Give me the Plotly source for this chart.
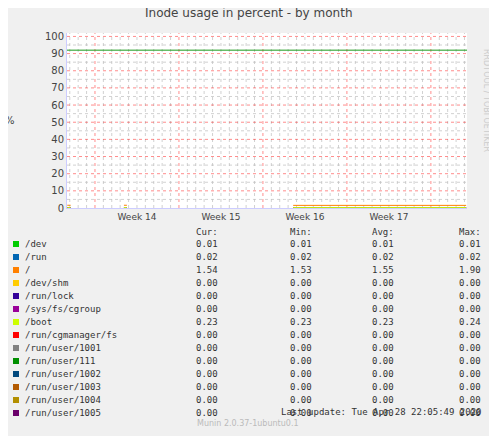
import plotly.graph_objects as go

names = ["/dev","/run","/","/dev/shm","/run/lock","/sys/fs/cgroup","/boot","/run/cgmanager/fs",
         "/run/user/1001","/run/user/111","/run/user/1002","/run/user/1003","/run/user/1004","/run/user/1005"]
colors = ["#00CC00","#0066B3","#FF8000","#FFCC00","#330099","#990099","#CCFF00","#FF0000",
          "#808080","#008F00","#00487D","#B35A00","#B38F00","#6B006B"]
cur = ["0.01","0.02","1.54","0.00","0.00","0.00","0.23","0.00","0.00","0.00","0.00","0.00","0.00","0.00"]
mn  = ["0.01","0.02","1.53","0.00","0.00","0.00","0.23","0.00","0.00","0.00","0.00","0.00","0.00","0.00"]
avg = ["0.01","0.02","1.55","0.00","0.00","0.00","0.23","0.00","0.00","0.00","0.00","0.00","0.00","0.00"]
mx  = ["0.01","0.02","1.90","0.00","0.00","0.00","0.24","0.00","0.00","0.00","0.00","0.00","0.00","0.00"]

seg_x = [-3.3, -2.9, None, 3.45, 3.8, None, 23.6, 44.2]
root_y = [1.6, 1.6, None, 1.6, 1.6, None, 1.54, 1.54]
zero_y = [0.0, 0.0, None, 0.0, 0.0, None, 0.0, 0.0]
warn_level = 92
week_pos = [5, 15, 25, 35]
week_labels = ["Week 14", "Week 15", "Week 16", "Week 17"]
XMIN, XMAX = -3.33, 44.3

fig = go.Figure()
fig.add_trace(go.Scatter(x=[XMIN, XMAX], y=[warn_level]*2, mode="lines", line=dict(color="#1a9a1a", width=1)))
for c in ["#0066B3", "#330099", "#990099", "#6B006B"]:
    fig.add_trace(go.Scatter(x=seg_x, y=zero_y, mode="lines", line=dict(color=c, width=1)))
fig.add_trace(go.Scatter(x=seg_x, y=[0.23 if v is not None else None for v in zero_y], mode="lines",
                         line=dict(color="#CCFF00", width=1)))
fig.add_trace(go.Scatter(x=seg_x, y=root_y, mode="lines", line=dict(color="#FF8000", width=1)))

shapes = []
for i in range(-3, 45):
    col = "rgba(255,0,0,0.45)" if i % 10 == 0 else "rgba(190,190,190,0.7)"
    shapes.append(dict(type="line", xref="x", yref="paper", x0=i, x1=i, y0=0, y1=1,
                       line=dict(color=col, width=1, dash="dot"), layer="below"))
for v in range(5, 101, 5):
    col = "rgba(255,0,0,0.45)" if v % 10 == 0 else "rgba(190,190,190,0.7)"
    shapes.append(dict(type="line", xref="paper", yref="y", x0=0, x1=1, y0=v, y1=v,
                       line=dict(color=col, width=1, dash="dot"), layer="below"))

O = 8  # page body margin offset
W, H = 497 - O, 436 - O
L, R, T, B = 67 - O, 467 - O, 33 - O, 208 - O
def px(x): return (x - O - L) / (R - L)
def py(y): return (B - (y - O)) / (B - T)

mono = "DejaVu Sans Mono"
ann = []
def txt(x, y, s, anchor="left", color="#333", size=9, fam=mono):
    ann.append(dict(x=px(x), y=py(y), xref="paper", yref="paper", text=s, showarrow=False,
                    xanchor=anchor, yanchor="middle", font=dict(family=fam, size=size, color=color)))

cols = [(220, "Cur:", cur), (314, "Min:", mn), (396, "Avg:", avg), (483, "Max:", mx)]
for x, h, _ in cols:
    txt(x, 232, h, "right")
for i, n in enumerate(names):
    y = 244 + 13 * i
    shapes.append(dict(type="rect", xref="paper", yref="paper", x0=px(13), x1=px(19),
                       y0=py(y + 3), y1=py(y - 3), fillcolor=colors[i], line=dict(width=0)))
    txt(23, y, n)
    for x, _, arr in cols:
        txt(x, y, arr[i], "right")
txt(483, 412, "Last update: Tue Apr 28 22:05:49 2020", "right")
txt(248, 424, "Munin 2.0.37-1ubuntu0.1", "center", "#bbbbbb", 8, "DejaVu Sans")
txt(248, 13, "Inode usage in percent - by month", "center", "#444", 12, "DejaVu Sans")
ann.append(dict(x=px(487), y=py(100), xref="paper", yref="paper", text="RRDTOOL / TOBI OETIKER",
                showarrow=False, textangle=90, xanchor="center", yanchor="middle",
                font=dict(family="DejaVu Sans", size=8, color="#cccccc")))
txt(10, 120, "%", "center", "#444", 10, "DejaVu Sans")

fig.update_layout(
    width=W, height=H, margin=dict(l=L, r=W - R, t=T, b=H - B),
    paper_bgcolor="#f0f0f0", plot_bgcolor="white", showlegend=False,
    shapes=shapes, annotations=ann,
    xaxis=dict(range=[XMIN, XMAX], showgrid=False, zeroline=False, tickmode="array",
               tickvals=week_pos, ticktext=week_labels, ticks="",
               tickfont=dict(family="DejaVu Sans", size=9, color="#444"),
               showline=True, linecolor="#ccccff"),
    yaxis=dict(range=[0, 102], showgrid=False, zeroline=False, tickmode="array",
               tickvals=list(range(0, 101, 10)), ticks="",
               tickfont=dict(family="DejaVu Sans", size=10, color="#444"),
               showline=True, linecolor="#ccccff"),
)
fig.write_html("out.html")
